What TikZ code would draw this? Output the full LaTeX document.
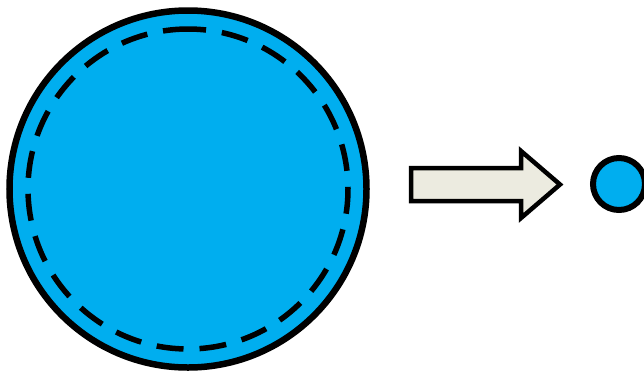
\documentclass[tikz,border=0pt]{standalone}
\definecolor{ballblue}{HTML}{00AEEF}
\definecolor{arrowfill}{HTML}{ECEBE0}
\begin{document}
\begin{tikzpicture}[x=1pt,y=-1pt,
  ball/.style={circle,fill=ballblue,draw=black,inner sep=0pt},
  rim/.style={draw=black,line width=5.5pt,dash pattern=on 27pt off 16.01pt},
  bigarrow/.style={fill=arrowfill,draw=black,line width=4.5pt,line join=miter}]
\useasboundingbox (0,0) rectangle (644,373);
\node[ball,line width=6.5pt,minimum size=357pt] (big) at (188,189) {};
\draw[rim] ([shift={(266.8:160)}]big.center) arc[start angle=266.8,end angle=626.8,radius=160];
\draw[bigarrow] (411,168) -- (521,168) -- (521,151) -- (560,184.5) -- (521,218) -- (521,201) -- (411,201) -- cycle;
\node[ball,line width=6pt,minimum size=52pt] (small) at (619,184) {};
\end{tikzpicture}
\end{document}
